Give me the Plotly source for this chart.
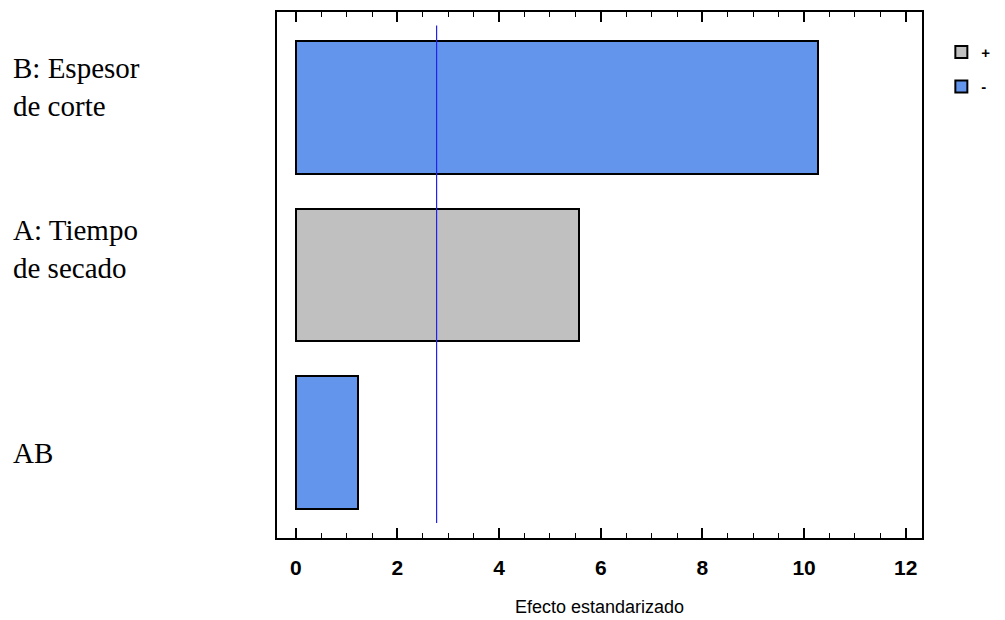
import plotly.graph_objects as go

# Data
factors = ["AB", "A: Tiempo<br>de secado", "B: Espesor<br>de corte"]
effects = [1.23, 5.57, 10.28]
signs = ["-", "+", "-"]
critical_value = 2.77
x_ticks = [0, 2, 4, 6, 8, 10, 12]

colors = {"+": "#C0C0C0", "-": "#6495ED"}
ypos = list(range(len(factors)))

fig = go.Figure()
for s in ["+", "-"]:
    xs = [e for e, sg in zip(effects, signs) if sg == s]
    ys = [p for p, sg in zip(ypos, signs) if sg == s]
    fig.add_trace(go.Bar(
        x=xs, y=ys, orientation="h", name=s, width=0.79, legendgroup=s,
        marker=dict(color=colors[s], line=dict(color="black", width=2)),
    ))

fig.add_trace(go.Scatter(
    x=[critical_value, critical_value], y=[-0.48, 2.49], mode="lines",
    line=dict(color="#2222EE", width=1.2), showlegend=False, hoverinfo="skip",
))

label_shift = {0: -10, 1: 26, 2: 20}
for p, f in zip(ypos, factors):
    fig.add_annotation(
        x=-0.412, xref="paper", y=p, yref="y", yshift=label_shift[p],
        text=f, showarrow=False, xanchor="left", align="left",
        font=dict(family="Liberation Serif", size=29, color="black"),
    )

fig.update_layout(
    width=1005, height=620,
    margin=dict(l=269, r=91, t=2, b=90),
    plot_bgcolor="white", paper_bgcolor="white",
    barmode="overlay", bargap=0,
    legend=dict(x=1.03, y=0.955, xanchor="left", yanchor="top",
                font=dict(family="Liberation Sans", size=15, color="black", weight="bold"),
                traceorder="grouped", itemwidth=30, tracegroupgap=12),
    showlegend=True,
)
fig.update_xaxes(
    range=[-0.37, 12.32], tickvals=x_ticks, ticks="inside", ticklen=10,
    tickwidth=1.5, tickcolor="black",
    minor=dict(dtick=0.5, ticks="inside", ticklen=5, tickcolor="black", tickwidth=1.2),
    showline=True, linecolor="black", linewidth=1.8, mirror="ticks",
    showgrid=False, zeroline=False, ticklabelstandoff=10,
    tickfont=dict(family="Liberation Sans", size=21, color="black", weight="bold"),
    title=dict(text="Efecto estandarizado",
               font=dict(family="Liberation Sans", size=18, color="black"),
               standoff=22),
)
fig.update_yaxes(
    range=[-0.57, 2.57], showticklabels=False, ticks="",
    showline=True, linecolor="black", linewidth=1.8, mirror=True,
    showgrid=False, zeroline=False,
)

fig.write_html("out.html")
